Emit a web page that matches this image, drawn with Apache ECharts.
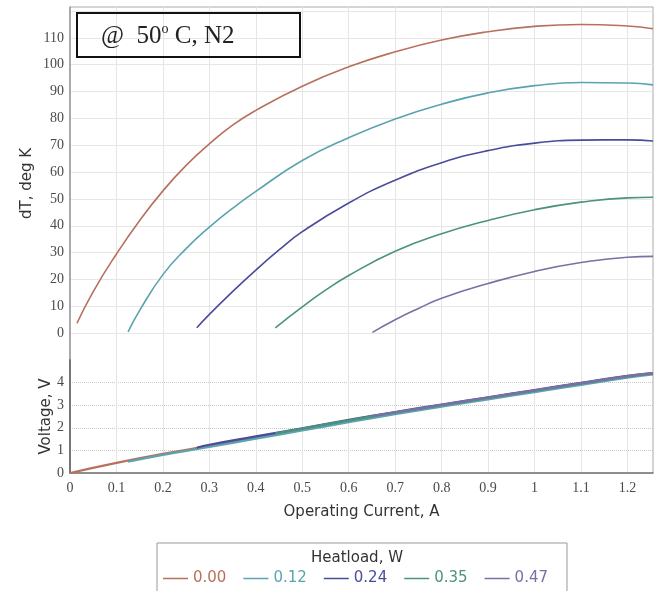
<!DOCTYPE html>
<html>
<head>
<meta charset="utf-8">
<script src="https://cdn.jsdelivr.net/npm/echarts@6/dist/echarts.min.js"></script>
<style>
  html, body { margin: 0; padding: 0; background: #fff; }
  #chart { width: 659px; height: 591px; }
</style>
</head>
<body>
<div id="chart"></div>
<script>
// heatload names, one per curve
const heatloads = ['0.00', '0.12', '0.24', '0.35', '0.47'];
const colors = ['#b8705e', '#5aa3b0', '#4b4b9c', '#4a9478', '#7b6fa3'];

// dT vs operating current
const dtCurrent0 = [0.015, 0.05, 0.1, 0.15, 0.2, 0.25, 0.3, 0.35, 0.4, 0.5, 0.6, 0.7, 0.8, 0.9, 1.0, 1.1, 1.2, 1.255];
const dtValues0 = [3.7, 15.5, 29.5, 42, 53, 62.5, 70.5, 77.5, 83, 92, 99.2, 104.8, 109.2, 112.3, 114.3, 115, 114.4, 113.4];
const dtCurrent1 = [0.125, 0.15, 0.2, 0.25, 0.3, 0.35, 0.4, 0.5, 0.6, 0.7, 0.8, 0.9, 1.0, 1.1, 1.2, 1.255];
const dtValues1 = [0.5, 8.5, 21.8, 31.5, 39.5, 46.5, 52.8, 64.3, 72.8, 79.8, 85.3, 89.5, 92.2, 93.4, 93.2, 92.5];
const dtCurrent2 = [0.273, 0.3, 0.35, 0.4, 0.45, 0.5, 0.6, 0.7, 0.8, 0.9, 1.0, 1.1, 1.2, 1.255];
const dtValues2 = [2, 7, 15.5, 23.5, 31, 37.8, 48.5, 57, 63.5, 68, 70.8, 71.9, 72, 71.6];
const dtCurrent3 = [0.442, 0.5, 0.55, 0.6, 0.7, 0.8, 0.9, 1.0, 1.1, 1.2, 1.255];
const dtValues3 = [2, 9.8, 16, 21.5, 30.5, 37, 42, 46, 48.8, 50.4, 50.6];
const dtCurrent4 = [0.651, 0.7, 0.75, 0.8, 0.9, 1.0, 1.1, 1.2, 1.255];
const dtValues4 = [0.3, 5, 9.2, 13, 18.5, 23, 26.3, 28.3, 28.6];

// voltage vs operating current (lower panel)
const vCurrent0 = [0, 0.1, 0.2, 0.3, 0.4, 0.5, 0.6, 0.7, 0.8, 0.9, 1.0, 1.1, 1.2, 1.255];
const vValues0 = [0, 0.45, 0.85, 1.2, 1.57, 1.93, 2.3, 2.65, 2.98, 3.3, 3.62, 3.95, 4.25, 4.38];
const vCurrent1 = [0.125, 0.2, 0.3, 0.4, 0.5, 0.6, 0.7, 0.8, 0.9, 1.0, 1.1, 1.2, 1.255];
const vValues1 = [0.5, 0.8, 1.15, 1.52, 1.88, 2.25, 2.6, 2.93, 3.26, 3.58, 3.9, 4.22, 4.36];
const vCurrent2 = [0.273, 0.3, 0.4, 0.5, 0.6, 0.7, 0.8, 0.9, 1.0, 1.1, 1.2, 1.255];
const vValues2 = [1.12, 1.25, 1.62, 1.98, 2.35, 2.7, 3.03, 3.35, 3.67, 3.99, 4.3, 4.42];
const vCurrent3 = [0.442, 0.5, 0.6, 0.7, 0.8, 0.9, 1.0, 1.1, 1.2, 1.255];
const vValues3 = [1.75, 1.97, 2.33, 2.68, 3.0, 3.32, 3.64, 3.96, 4.27, 4.4];
const vCurrent4 = [0.651, 0.7, 0.8, 0.9, 1.0, 1.1, 1.2, 1.255];
const vValues4 = [2.52, 2.68, 3.02, 3.34, 3.66, 3.98, 4.29, 4.42];

const dtCurrents = [dtCurrent0, dtCurrent1, dtCurrent2, dtCurrent3, dtCurrent4];
const dtValues = [dtValues0, dtValues1, dtValues2, dtValues3, dtValues4];
const vCurrents = [vCurrent0, vCurrent1, vCurrent2, vCurrent3, vCurrent4];
const vValues = [vValues0, vValues1, vValues2, vValues3, vValues4];

const zip = (xs, ys) => xs.map((x, i) => [x, ys[i]]);

const chart = echarts.init(document.getElementById('chart'));

const labelFont = { fontFamily: 'Liberation Serif', fontSize: 14, color: '#4a4a4a' };
const nameFont = { fontFamily: 'DejaVu Sans', fontSize: 15, color: '#333' };

const series = [];
heatloads.forEach((h, i) => {
    series.push({
        name: h,
        type: 'line',
        xAxisIndex: 0,
        yAxisIndex: 0,
        symbol: 'none',
        smooth: true,
        color: colors[i],
        lineStyle: { width: 1.6 },
        data: zip(dtCurrents[i], dtValues[i])
    });
});
heatloads.forEach((h, i) => {
    series.push({
        name: h,
        type: 'line',
        xAxisIndex: 1,
        yAxisIndex: 1,
        symbol: 'none',
        smooth: true,
        color: colors[i],
        lineStyle: { width: 2.2 },
        data: zip(vCurrents[i], vValues[i])
    });
});

const option = {
    animation: false,
    title: [
        {
            text: '{a|@  50}{s|o}{a| C, N2}',
            left: 77,
            top: 13,
            padding: [9, 66, 9, 24],
            borderColor: '#111',
            borderWidth: 2,
            textStyle: {
                rich: {
                    a: { fontFamily: 'Liberation Serif', fontSize: 25, fontWeight: 'normal', color: '#222', lineHeight: 28 },
                    s: { fontFamily: 'Liberation Serif', fontSize: 14, fontWeight: 'normal', color: '#222', verticalAlign: 'top', lineHeight: 28 }
                }
            }
        },
        {
            text: 'Heatload, W',
            left: 357,
            textAlign: 'center',
            top: 551,
            padding: 0,
            textStyle: { fontFamily: 'DejaVu Sans', fontSize: 15, fontWeight: 'normal', color: '#333' }
        }
    ],
    legend: {
        left: 157,
        top: 543,
        padding: [28, 19, 20, 6],
        borderColor: '#999',
        borderWidth: 1,
        icon: 'rect',
        itemWidth: 25,
        itemHeight: 1.5,
        itemGap: 17,
        data: heatloads.map((h, i) => ({
            name: h,
            textStyle: { color: colors[i], fontFamily: 'DejaVu Sans', fontSize: 15 }
        }))
    },
    grid: [
        { left: 70, right: 6, top: 7, height: 353 },
        { left: 70, right: 6, top: 360, height: 113 },
        { left: 70, right: 6, top: 7, height: 466, show: true, borderColor: '#aaa', borderWidth: 1, backgroundColor: 'transparent' }
    ],
    xAxis: [
        {
            gridIndex: 0, type: 'value', min: 0, max: 1.255, interval: 0.1,
            axisLine: { show: false }, axisTick: { show: false }, axisLabel: { show: false },
            splitLine: { show: true, showMaxLine: false, lineStyle: { color: '#e6e6e6' } }
        },
        {
            gridIndex: 1, type: 'value', min: 0, max: 1.255, interval: 0.1,
            name: 'Operating Current, A', nameLocation: 'middle', nameGap: 32,
            nameTextStyle: nameFont,
            axisLine: { show: true, lineStyle: { color: '#777', width: 1.5 } },
            axisTick: { show: false },
            axisLabel: Object.assign({ margin: 8, formatter: v => (v > 1.21 ? '' : String(v)) }, labelFont),
            splitLine: { show: true, showMaxLine: false, lineStyle: { color: '#e6e6e6' } }
        },
        { gridIndex: 2, type: 'value', show: false, min: 0, max: 1 }
    ],
    yAxis: [
        {
            gridIndex: 0, type: 'value', min: -10, max: 121.5, interval: 10,
            name: 'dT, deg K', nameLocation: 'middle', nameGap: 35, nameRotate: 90,
            nameMoveOverlap: false,
            nameTextStyle: nameFont,
            axisLine: { show: true, lineStyle: { color: '#999', width: 1.5 } },
            axisTick: { show: false },
            axisLabel: Object.assign({ margin: 6, formatter: v => (v < 0 || v > 110 ? '' : String(v)) }, labelFont),
            splitLine: { show: true, showMinLine: false, showMaxLine: false, lineStyle: { color: '#e6e6e6' } }
        },
        {
            gridIndex: 1, type: 'value', min: 0, max: 5, interval: 1,
            name: 'Voltage, V', nameLocation: 'middle', nameGap: 16, nameRotate: 90,
            nameMoveOverlap: false,
            nameTextStyle: nameFont,
            axisLine: { show: true, lineStyle: { color: '#555', width: 1.5 } },
            axisTick: { show: false },
            axisLabel: Object.assign({ margin: 6, formatter: v => (v > 4 ? '' : String(v)) }, labelFont),
            splitLine: { show: true, showMinLine: false, showMaxLine: false, lineStyle: { color: '#c8c8c8', type: 'dotted' } }
        },
        { gridIndex: 2, type: 'value', show: false, min: 0, max: 1 }
    ],
    series: series
};

chart.setOption(option);
</script>
</body>
</html>
